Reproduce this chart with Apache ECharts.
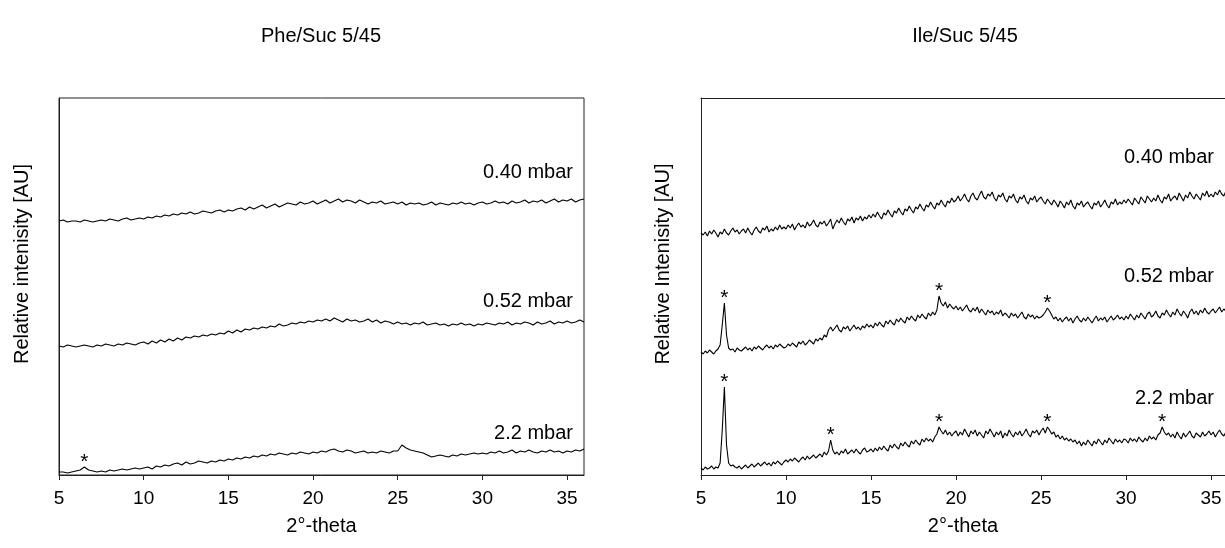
<!DOCTYPE html>
<html>
<head>
<meta charset="utf-8">
<script src="https://cdn.jsdelivr.net/npm/echarts@6/dist/echarts.min.js"></script>
<style>
html,body{margin:0;padding:0;background:#fff;}
#chart{width:1225px;height:548px;}
</style>
</head>
<body>
<div id="chart"></div>
<script>
// 2°-theta sampling positions, Phe panel
const twoTheta = [
  5,5.25,5.5,5.75,6,6.25,6.5,6.75,7,7.25,7.5,7.75,8,8.25,8.5,8.75,9,9.25,9.5,9.75,
  10,10.25,10.5,10.75,11,11.25,11.5,11.75,12,12.25,12.5,12.75,13,13.25,13.5,13.75,14,14.25,14.5,14.75,
  15,15.25,15.5,15.75,16,16.25,16.5,16.75,17,17.25,17.5,17.75,18,18.25,18.5,18.75,19,19.25,19.5,19.75,
  20,20.25,20.5,20.75,21,21.25,21.5,21.75,22,22.25,22.5,22.75,23,23.25,23.5,23.75,24,24.25,24.5,24.75,
  25,25.25,25.5,25.75,26,26.25,26.5,26.75,27,27.25,27.5,27.75,28,28.25,28.5,28.75,29,29.25,29.5,29.75,
  30,30.25,30.5,30.75,31,31.25,31.5,31.75,32,32.25,32.5,32.75,33,33.25,33.5,33.75,34,34.25,34.5,34.75,
  35,35.25,35.5,35.75,36
];
// 2°-theta sampling positions, Ile panel (finer)
const twoThetaFine = [
  5,5.125,5.25,5.375,5.5,5.625,5.75,5.875,6,6.125,6.25,6.375,6.5,6.625,6.75,6.875,7,7.125,7.25,7.375,
  7.5,7.625,7.75,7.875,8,8.125,8.25,8.375,8.5,8.625,8.75,8.875,9,9.125,9.25,9.375,9.5,9.625,9.75,9.875,
  10,10.125,10.25,10.375,10.5,10.625,10.75,10.875,11,11.125,11.25,11.375,11.5,11.625,11.75,11.875,12,12.125,12.25,12.375,
  12.5,12.625,12.75,12.875,13,13.125,13.25,13.375,13.5,13.625,13.75,13.875,14,14.125,14.25,14.375,14.5,14.625,14.75,14.875,
  15,15.125,15.25,15.375,15.5,15.625,15.75,15.875,16,16.125,16.25,16.375,16.5,16.625,16.75,16.875,17,17.125,17.25,17.375,
  17.5,17.625,17.75,17.875,18,18.125,18.25,18.375,18.5,18.625,18.75,18.875,19,19.125,19.25,19.375,19.5,19.625,19.75,19.875,
  20,20.125,20.25,20.375,20.5,20.625,20.75,20.875,21,21.125,21.25,21.375,21.5,21.625,21.75,21.875,22,22.125,22.25,22.375,
  22.5,22.625,22.75,22.875,23,23.125,23.25,23.375,23.5,23.625,23.75,23.875,24,24.125,24.25,24.375,24.5,24.625,24.75,24.875,
  25,25.125,25.25,25.375,25.5,25.625,25.75,25.875,26,26.125,26.25,26.375,26.5,26.625,26.75,26.875,27,27.125,27.25,27.375,
  27.5,27.625,27.75,27.875,28,28.125,28.25,28.375,28.5,28.625,28.75,28.875,29,29.125,29.25,29.375,29.5,29.625,29.75,29.875,
  30,30.125,30.25,30.375,30.5,30.625,30.75,30.875,31,31.125,31.25,31.375,31.5,31.625,31.75,31.875,32,32.125,32.25,32.375,
  32.5,32.625,32.75,32.875,33,33.125,33.25,33.375,33.5,33.625,33.75,33.875,34,34.125,34.25,34.375,34.5,34.625,34.75,34.875,
  35,35.125,35.25,35.375,35.5,35.625,35.75,35.875
];
const xTicks = [5,10,15,20,25,30,35];

// Phe/Suc 5/45 (relative intensity, AU)
const phe040 = [
  254,255,253,254,254,253,255,254,253,254,255,254,256,255,254,256,257,255,256,257,
  256,258,257,259,258,260,259,261,260,262,261,263,261,262,264,263,262,264,265,263,
  265,264,266,267,265,268,266,268,270,267,269,271,268,270,272,271,270,273,271,272,
  274,271,273,275,272,274,276,273,275,274,272,275,273,271,273,272,274,271,272,273,
  271,273,270,272,271,272,270,271,273,270,272,271,270,272,271,273,271,272,270,272,
  273,271,272,274,272,273,271,274,272,273,275,272,274,273,275,272,274,276,273,275,
  274,276,273,275,276
];
const phe052 = [
  129,128,130,129,128,129,130,129,128,130,129,131,130,129,131,130,132,131,130,132,
  133,131,134,132,135,133,136,134,137,135,138,137,139,138,140,139,141,140,142,141,
  144,142,145,143,146,145,147,146,148,147,149,148,151,149,150,152,151,153,152,154,
  153,155,154,156,154,157,155,153,156,154,155,153,154,156,153,155,152,154,153,151,
  153,151,152,150,152,151,153,150,151,152,150,151,149,151,150,152,150,151,149,151,
  150,152,151,150,152,151,153,150,152,151,153,152,150,153,151,152,154,151,153,152,
  154,152,153,155,153
];
const phe22 = [
  3,3,2,3,4,5,8,5,4,3,4,3,5,4,5,6,5,6,7,6,
  7,8,6,9,8,10,9,11,12,10,13,11,12,14,13,12,14,13,15,14,
  16,15,17,16,18,17,19,18,20,19,21,20,22,21,20,22,21,23,22,21,
  23,22,24,23,25,26,24,23,25,24,22,23,24,22,23,22,24,23,22,24,
  24,30,27,25,24,23,22,20,18,19,20,19,18,20,19,21,20,21,22,21,
  22,21,23,22,24,22,23,25,22,24,23,25,23,22,24,23,25,23,24,22,
  24,23,25,24,26
];

// Ile/Suc 5/45 (relative intensity, AU), on twoThetaFine
const ile040 = [
  242,240,243,239,244,241,245,242,238,243,241,246,242,240,244,247,243,245,241,244,
  246,242,247,243,240,245,248,244,242,247,245,249,243,246,244,248,245,250,246,248,
  246,250,247,251,245,249,252,248,250,247,253,249,251,255,250,248,253,251,254,249,
  252,256,246,251,255,252,257,253,250,256,254,258,252,257,255,259,254,258,256,260,
  257,261,258,263,259,256,262,260,265,261,258,264,262,267,263,260,266,264,269,265,
  262,268,266,271,267,264,270,268,273,269,266,272,270,275,271,268,274,272,277,273,
  275,279,274,277,281,276,273,279,282,277,275,280,284,278,276,281,279,283,277,274,
  280,278,282,276,273,279,277,281,275,272,278,276,280,274,271,277,275,279,273,276,
  278,274,271,276,273,270,275,272,268,274,271,267,273,270,275,269,266,272,270,274,
  268,271,273,269,266,272,270,274,268,271,275,270,267,273,271,276,270,273,271,275,
  272,276,273,270,277,274,271,278,275,272,279,276,273,277,274,280,275,272,278,276,
  281,274,277,279,275,282,278,274,280,277,283,279,276,281,278,275,282,279,284,278,
  281,278,283,280,285,281,279,284
];
const ile052 = [
  123,121,124,122,125,123,121,124,126,130,150,172,140,127,125,126,123,127,125,124,
  126,128,125,127,124,128,126,129,127,125,128,130,127,129,126,130,128,131,129,127,
  128,131,129,132,130,128,133,131,134,130,132,135,133,131,136,134,137,135,140,138,
  145,148,144,147,150,145,143,148,146,149,144,147,150,146,148,145,149,147,151,148,
  150,147,152,149,153,150,148,154,151,155,152,150,156,153,157,154,152,158,155,159,
  156,154,160,157,161,158,156,162,159,163,160,165,179,172,169,173,167,171,168,166,
  169,165,168,164,167,170,165,163,167,164,168,162,166,163,160,165,162,164,160,163,
  161,165,159,162,160,157,162,159,161,157,160,163,158,156,161,158,160,156,159,157,
  158,160,163,167,164,160,156,158,154,157,153,156,158,154,157,152,156,159,155,153,
  157,154,158,155,152,156,159,154,157,155,158,153,156,159,155,157,160,156,158,155,
  159,156,161,158,155,160,157,162,159,156,161,163,158,160,164,159,157,162,160,165,
  161,158,163,160,166,162,159,164,161,157,163,166,161,164,160,165,162,167,163,161,
  164,166,162,165,168,163,166,164
];
const ile22 = [
  7,5,8,6,7,9,6,8,7,12,45,88,30,12,9,10,8,7,9,6,
  8,10,7,9,11,8,10,12,9,11,13,10,12,9,13,11,14,12,10,13,
  15,13,16,14,17,15,13,16,18,15,19,16,18,20,17,19,21,18,23,20,
  24,35,25,21,23,20,24,22,26,21,23,25,22,26,23,21,25,27,23,24,
  26,23,27,24,28,25,29,26,24,30,27,31,28,26,32,29,33,30,28,34,
  31,35,32,30,36,33,37,34,36,33,38,41,48,44,41,45,40,43,39,42,
  44,39,43,40,46,42,38,44,41,45,39,43,40,37,44,41,46,42,38,43,
  40,44,37,42,39,45,41,38,43,40,44,39,42,46,41,38,44,42,45,40,
  44,47,42,48,45,41,43,38,40,36,39,35,37,34,36,33,35,31,34,29,
  33,30,35,32,29,34,31,36,33,30,35,32,37,34,31,36,33,35,32,36,
  35,32,37,34,36,33,38,35,33,37,34,39,36,38,35,40,42,48,43,40,
  42,38,41,37,43,39,36,42,38,41,44,39,37,42,40,38,43,39,41,44,
  40,43,38,42,45,41,39,43
];

// peaks marked with an asterisk (2°-theta)
const pheStars22 = [6.5];
const ileStars052 = [6.375, 19, 25.375];
const ileStars22 = [6.375, 12.625, 19, 25.375, 32.125];

const titles = ['Phe/Suc 5/45', 'Ile/Suc 5/45'];
const yNames = ['Relative intenisity [AU]', 'Relative Intenisity [AU]'];
const xName = '2°-theta';
const seriesNames = ['0.40 mbar', '0.52 mbar', '2.2 mbar'];

const FONT = '"Liberation Sans", Arial, sans-serif';
const pairs = (xs, ys) => ys.map((y, i) => [xs[i], y]);
const starPoints = (xs, ys, stars) => stars.map(x => ({ coord: [x, ys[xs.indexOf(x)]] }));

function line(gi, name, xs, ys, stars) {
  const s = {
    type: 'line', name: name, xAxisIndex: gi, yAxisIndex: gi,
    data: pairs(xs, ys), showSymbol: false, symbol: 'none', animation: false, clip: true,
    lineStyle: { color: '#000', width: 1.1 }, silent: true
  };
  if (stars && stars.length) {
    s.markPoint = {
      symbol: 'circle', symbolSize: 1, itemStyle: { color: 'rgba(0,0,0,0)' },
      label: { show: true, position: 'top', distance: -6, formatter: '*',
               color: '#000', fontSize: 21, fontFamily: FONT },
      data: starPoints(xs, ys, stars), animation: false, silent: true
    };
  }
  return s;
}

// right panel runs off the page edge: 17 px per degree, clipped at the picture border
const gridDefs = [
  { left: 59, top: 98, width: 525, height: 377, show: true, borderColor: '#222', borderWidth: 1 },
  { left: 701, top: 98, width: 524, height: 377, show: false }
];
const xMax = [36, 35.82];

const chart = echarts.init(document.getElementById('chart'), null, { renderer: 'canvas' });

const xAxes = gridDefs.map((g, i) => ({
  type: 'value', gridIndex: i, min: 5, max: xMax[i], interval: 5,
  name: xName, nameLocation: 'middle', nameGap: 41,
  nameTextStyle: { fontSize: 20, color: '#000', fontFamily: FONT },
  axisLine: { show: true, lineStyle: { color: '#222', width: 1 } },
  axisTick: { show: true, inside: false, length: 5, lineStyle: { color: '#222' }, customValues: xTicks },
  axisLabel: { fontSize: 19, color: '#000', margin: 14, fontFamily: FONT, customValues: xTicks },
  splitLine: { show: false }
}));
// top frame line of the right panel
xAxes.push({
  type: 'value', gridIndex: 1, position: 'top', min: 5, max: xMax[1],
  axisLine: { show: true, lineStyle: { color: '#222', width: 1 } },
  axisTick: { show: false }, axisLabel: { show: false }, splitLine: { show: false }
});
const yAxes = gridDefs.map((g, i) => ({
  type: 'value', gridIndex: i, min: 0, max: 377,
  axisLine: { show: true, lineStyle: { color: '#222' } },
  axisTick: { show: false }, axisLabel: { show: false }, splitLine: { show: false }
}));

const labelY = [[172, 301, 433], [157, 276, 398]];
const labelRight = [573, 1214];

const graphics = [];
titles.forEach((t, i) => {
  graphics.push({ type: 'text', x: [321, 965][i], y: 36,
    style: { text: t, font: '20px ' + FONT, fill: '#000', textAlign: 'center', textVerticalAlign: 'middle' } });
});
yNames.forEach((t, i) => {
  graphics.push({ type: 'text', x: [22, 663][i], y: 264, rotation: Math.PI / 2,
    style: { text: t, font: '20px ' + FONT, fill: '#000', textAlign: 'center', textVerticalAlign: 'middle' } });
});
[0, 1].forEach(p => {
  seriesNames.forEach((n, k) => {
    graphics.push({ type: 'text', x: labelRight[p], y: labelY[p][k],
      style: { text: n, font: '20px ' + FONT, fill: '#000', textAlign: 'right', textVerticalAlign: 'middle' } });
  });
});

chart.setOption({
  animation: false,
  backgroundColor: '#fff',
  grid: gridDefs.map(g => Object.assign({ backgroundColor: 'transparent', containLabel: false }, g)),
  xAxis: xAxes,
  yAxis: yAxes,
  series: [
    line(0, seriesNames[0], twoTheta, phe040),
    line(0, seriesNames[1], twoTheta, phe052),
    line(0, seriesNames[2], twoTheta, phe22, pheStars22),
    line(1, seriesNames[0], twoThetaFine, ile040),
    line(1, seriesNames[1], twoThetaFine, ile052, ileStars052),
    line(1, seriesNames[2], twoThetaFine, ile22, ileStars22)
  ],
  graphic: graphics
});
</script>
</body>
</html>
